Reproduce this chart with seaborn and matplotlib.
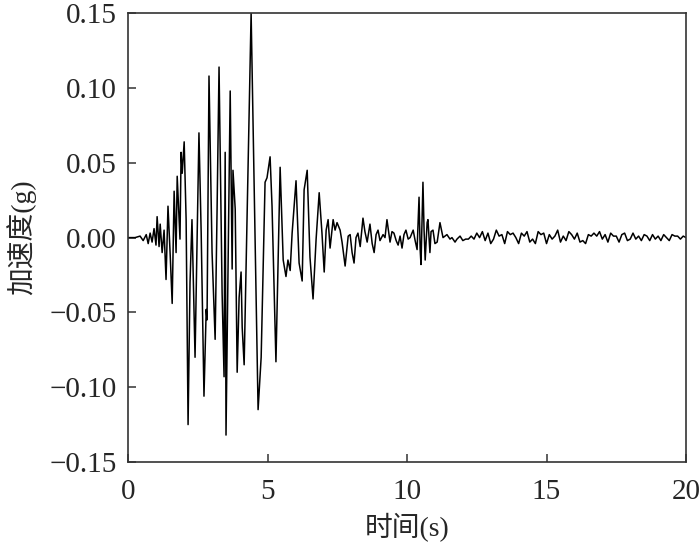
import numpy as np
import pandas as pd
import matplotlib
matplotlib.use('Agg')
import matplotlib.pyplot as plt
import seaborn as sns

# accelerogram (time in s, acceleration in g)
time_s = [0.00, 0.25, 0.43, 0.54, 0.65, 0.72, 0.79, 0.86, 0.93, 1.00,
          1.04, 1.11, 1.15, 1.22, 1.29, 1.36, 1.43, 1.51, 1.58, 1.65,
          1.72, 1.76, 1.86, 1.90, 1.94, 2.01, 2.08, 2.15, 2.22, 2.29,
          2.40, 2.54, 2.62, 2.72, 2.80, 2.83, 2.90, 3.01, 3.12, 3.19,
          3.26, 3.37, 3.44, 3.48, 3.51, 3.66, 3.73, 3.76, 3.84, 3.91,
          3.98, 4.05, 4.09, 4.16, 4.23, 4.41, 4.66, 4.77, 4.91, 4.98,
          5.09, 5.16, 5.30, 5.45, 5.56, 5.66, 5.73, 5.81, 5.88, 6.02,
          6.13, 6.24, 6.31, 6.42, 6.52, 6.63, 6.74, 6.85, 6.95, 7.03,
          7.10, 7.17, 7.24, 7.35, 7.42, 7.49, 7.60, 7.67, 7.78, 7.89,
          7.96, 8.03, 8.10, 8.17, 8.24, 8.32, 8.42, 8.49, 8.57, 8.67,
          8.75, 8.82, 8.89, 8.96, 9.03, 9.14, 9.21, 9.28, 9.39, 9.46,
          9.53, 9.61, 9.68, 9.75, 9.82, 9.89, 9.96, 10.04, 10.11, 10.22,
          10.29, 10.36, 10.43, 10.47, 10.50, 10.57, 10.61, 10.65, 10.72, 10.75,
          10.82, 10.86, 10.93, 11.00, 11.08, 11.18, 11.29, 11.43, 11.54, 11.61,
          11.72, 11.79]
accel_g = [0.000, 0.000, 0.001, -0.002, 0.002, -0.004, 0.003, -0.003, 0.006, -0.005,
           0.014, -0.006, 0.009, -0.010, 0.005, -0.028, 0.021, -0.012, -0.044, 0.031,
           -0.010, 0.041, -0.001, 0.057, 0.043, 0.064, 0.012, -0.125, -0.030, 0.012,
           -0.080, 0.070, 0.003, -0.106, -0.048, -0.055, 0.108, -0.010, -0.068, 0.019,
           0.114, -0.037, -0.093, 0.057, -0.132, 0.098, -0.021, 0.045, 0.019, -0.090,
           -0.040, -0.023, -0.060, -0.085, -0.020, 0.150, -0.115, -0.080, 0.037, 0.040,
           0.054, 0.021, -0.083, 0.047, -0.015, -0.026, -0.015, -0.022, 0.003, 0.038,
           -0.017, -0.029, 0.032, 0.045, -0.013, -0.041, -0.001, 0.030, 0.003, -0.023,
           0.005, 0.012, -0.007, 0.012, 0.005, 0.010, 0.005, -0.003, -0.019, 0.001,
           0.002, -0.010, -0.017, 0.000, 0.003, -0.006, 0.013, 0.004, -0.003, 0.009,
           -0.004, -0.010, 0.002, 0.005, -0.002, 0.002, 0.000, 0.012, -0.003, 0.004,
           0.003, -0.002, -0.005, 0.001, -0.007, 0.002, 0.005, -0.001, 0.000, 0.005,
           -0.002, -0.008, 0.027, -0.008, -0.018, 0.037, 0.005, -0.015, 0.010, 0.012,
           -0.010, 0.004, 0.005, -0.004, -0.003, 0.010, 0.000, 0.002, -0.001, 0.000,
           -0.003, -0.001]

# low-level coda after ~12 s
tail_time_s = [11.9, 12.0, 12.1, 12.2, 12.3, 12.4, 12.5, 12.6, 12.7, 12.8, 12.9,
               13.0, 13.1, 13.2, 13.3, 13.4, 13.5, 13.6, 13.7, 13.8, 13.9,
               14.0, 14.1, 14.2, 14.3, 14.4, 14.5, 14.6, 14.7, 14.8, 14.9,
               15.0, 15.1, 15.2, 15.3, 15.4, 15.5, 15.6, 15.7, 15.8, 15.9,
               16.0, 16.1, 16.2, 16.3, 16.4, 16.5, 16.6, 16.7, 16.8, 16.9,
               17.0, 17.1, 17.2, 17.3, 17.4, 17.5, 17.6, 17.7, 17.8, 17.9,
               18.0, 18.1, 18.2, 18.3, 18.4, 18.5, 18.6, 18.7, 18.8, 18.9,
               19.0, 19.1, 19.2, 19.3, 19.4, 19.5, 19.6, 19.7, 19.8, 19.9, 20.0]
tail_accel_g = [0.001, -0.002, -0.001, -0.001, 0.001, -0.001, 0.003, 0.000, 0.004, -0.002, 0.003,
                -0.004, -0.001, 0.005, 0.001, 0.002, -0.004, 0.004, 0.002, 0.003, 0.000,
                -0.004, 0.003, 0.001, 0.004, -0.003, -0.001, -0.004, 0.004, 0.002, 0.003,
                -0.004, 0.002, -0.001, 0.001, 0.005, -0.003, 0.001, -0.002, 0.004, 0.002,
                -0.001, 0.003, -0.003, -0.002, -0.004, 0.002, 0.001, 0.003, 0.001, 0.004,
                -0.001, 0.002, -0.003, 0.003, 0.001, 0.001, -0.003, 0.002, 0.003, -0.002,
                -0.001, 0.003, -0.001, 0.001, -0.002, 0.002, 0.001, -0.002, 0.002, -0.001,
                0.001, -0.002, 0.002, 0.000, -0.002, 0.002, 0.001, 0.001, -0.001, 0.001, 0.000]

xticks = [0, 5, 10, 15, 20]
yticks = [-0.15, -0.10, -0.05, 0.00, 0.05, 0.10, 0.15]

df = pd.DataFrame({'t': time_s + tail_time_s, 'a': accel_g + tail_accel_g})

sns.set_style('ticks')
plt.rcParams['font.family'] = ['Liberation Serif', 'Noto Sans CJK SC', 'DejaVu Sans']
plt.rcParams['xtick.direction'] = 'in'
plt.rcParams['ytick.direction'] = 'in'
plt.rcParams['axes.unicode_minus'] = True

fig = plt.figure(figsize=(7, 5.5), dpi=100)
ax = fig.add_axes([0.183, 0.16, 0.797, 0.816])
sns.lineplot(data=df, x='t', y='a', color='black', linewidth=1.1, estimator=None, sort=False, ax=ax)

ax.set_xlim(0, 20)
ax.set_ylim(-0.15, 0.15)
ax.set_xticks(xticks)
ax.set_xticklabels([str(v) for v in xticks])
ax.set_yticks(yticks)
ax.set_yticklabels(['\u2212%.2f' % abs(v) if v < 0 else '%.2f' % v for v in yticks])
ax.tick_params(labelsize=21, length=6, width=1.1, color='#333333')
ax.tick_params(axis='x', pad=12)
ax.tick_params(axis='y', pad=8)
for s in ax.spines.values():
    s.set_linewidth(1.2)
    s.set_color('#333333')

ax.set_xlabel('时间(s)', fontsize=20, labelpad=6)
ax.set_ylabel('加速度(g)', fontsize=20, labelpad=10)

fig.savefig('out.png', dpi=100)
